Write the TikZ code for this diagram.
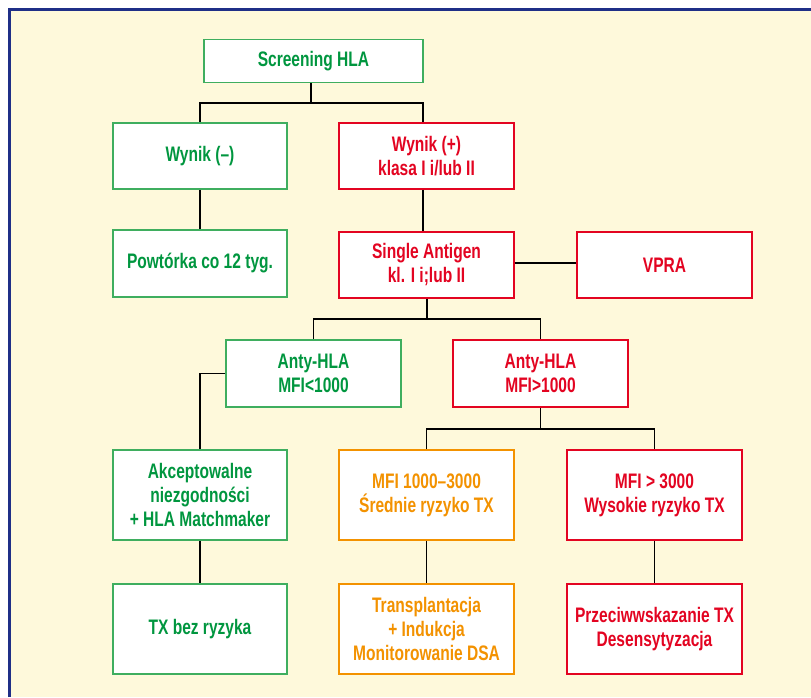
\documentclass[tikz,border=0pt]{standalone}
\usepackage{fontspec}
\usepackage{tikz}
\newfontfamily\boxfont[FakeStretch=0.74, Ligatures=TeX]{Liberation Sans}
\definecolor{frameblue}{HTML}{1F2F87}
\definecolor{paper}{HTML}{FEF9DB}
\definecolor{okgreen}{HTML}{00963F}
\definecolor{okgreenline}{HTML}{3FAE5F}
\definecolor{riskred}{HTML}{E30421}
\definecolor{midorange}{HTML}{F39200}

\begin{document}
\begin{tikzpicture}[x=1pt, y=-1pt]
	\tikzstyle{every node} =[font=\boxfont\bfseries\fontsize{21}{24}\selectfont, align=center];
	\tikzstyle{box} =[draw, fill=white, line width=1.6pt, minimum width=175pt, minimum height=66pt, inner sep=2pt];
	\tikzstyle{green box} =[box, draw=okgreenline, text=okgreen];
	\tikzstyle{red box} =[box, draw=riskred, text=riskred];
	\tikzstyle{orange box} =[box, draw=midorange, text=midorange];
	\tikzstyle{conn} =[draw=black, line width=1.2pt];
	\useasboundingbox (0,0) rectangle (811,697);
	\path [fill=white] (0,0) rectangle (811,697);
	\path [fill=paper] (10,10) rectangle (811,697);
	\draw [frameblue, line width=2.6pt] (9.7,697) -- (9.7,9.7) -- (811,9.7);

	% boxes
	\node [green box, minimum width=219pt, minimum height=43pt] (scr) at (313.5, 61) {Screening HLA};
	\node [green box, minimum width=174pt] (wm) at (200, 156) {Wynik (–)};
	\node [red box] (wp) at (426.5, 156) {Wynik (+)\\klasa I i/lub II};
	\node [green box, minimum width=174pt, minimum height=67pt] (pow) at (200, 263.5) {Powtórka co 12 tyg.};
	\node [red box] (sa) at (426.5, 265) {Single Antigen\\kl. I i;lub II};
	\node [red box] (vpra) at (664.5, 265) {VPRA};
	\node [green box, minimum height=67pt] (alo) at (313.5, 373.5) {Anty-HLA\\MFI<1000};
	\node [red box, minimum height=67pt] (ahi) at (540.5, 373.5) {Anty-HLA\\MFI>1000};
	\node [green box, minimum width=174pt, minimum height=90pt] (akc) at (200, 495) {Akceptowalne\\niezgodności\\+ HLA Matchmaker};
	\node [orange box, minimum height=90pt] (mid) at (426.5, 495) {MFI 1000–3000\\Średnie ryzyko TX};
	\node [red box, minimum height=90pt] (high) at (654.5, 495) {MFI > 3000\\Wysokie ryzyko TX};
	\node [green box, minimum width=174pt, minimum height=90pt] (txb) at (200, 629) {TX bez ryzyka};
	\node [orange box, minimum height=90pt] (tra) at (426.5, 629) {Transplantacja\\+ Indukcja\\Monitorowanie DSA};
	\node [red box, minimum height=90pt] (prz) at (654.5, 629) {Przeciwwskazanie TX\\Desensytyzacja};

	% connectors
	\coordinate (j1) at (311, 103);
	\coordinate (j2) at (427, 319);
	\coordinate (j3) at (540.5, 429);
	\draw [conn] (scr.south -| j1) -- (j1);
	\draw [conn] (wm.north) |- (j1) -| ([xshift=-3.5pt]wp.north);
	\draw [conn] (wm) -- (pow);
	\draw [conn] ([xshift=-3.5pt]wp.south) -- ([xshift=-3.5pt]sa.north);
	\draw [conn] ([yshift=2pt]sa.east) -- ([yshift=2pt]vpra.west);
	\draw [conn] (sa.south -| j2) -- (j2);
	\draw [conn] (alo.north) |- (j2) -| (ahi.north);
	\draw [conn] (ahi.south) -- (j3);
	\draw [conn] (mid.north) |- (j3) -| (high.north);
	\draw [conn] (alo.west) -| (akc.north);
	\draw [conn] (akc) -- (txb);
	\draw [conn] (mid) -- (tra);
	\draw [conn] (high) -- (prz);
\end{tikzpicture}
\end{document}
